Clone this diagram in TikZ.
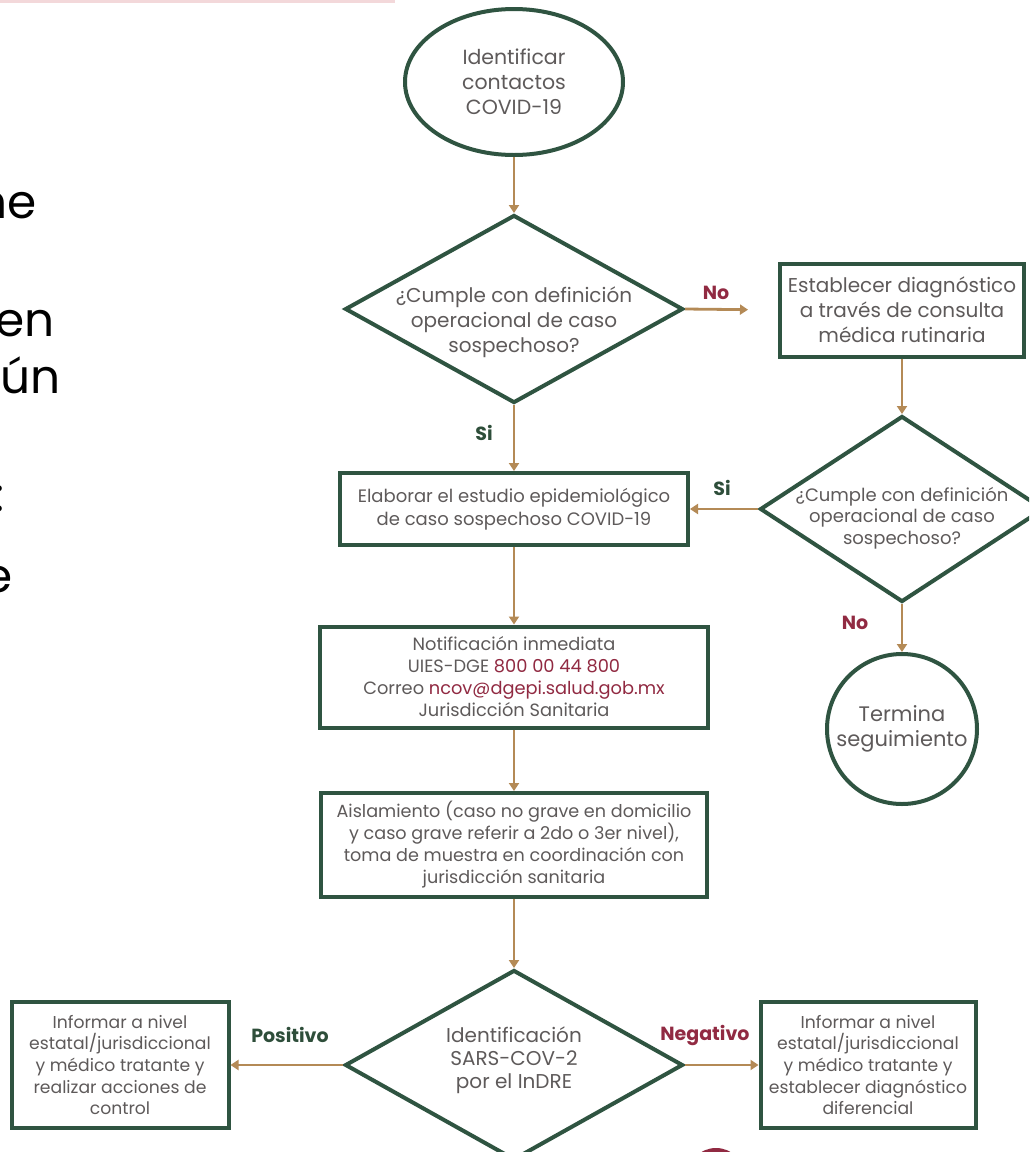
\documentclass[tikz,border=0pt]{standalone}
\usepackage{fontspec}
\setmainfont{Poppins}
\usetikzlibrary{shapes.geometric,arrows.meta}
\definecolor{dgreen}{HTML}{2F5441}
\definecolor{tanc}{HTML}{B48A56}
\definecolor{dred}{HTML}{912A42}
\definecolor{tgray}{HTML}{5E5A5A}
\definecolor{lblgreen}{HTML}{2E4E3A}
\definecolor{lpink}{HTML}{F3D8DA}
\newcommand{\fsz}[2]{\fontsize{#1}{#2}\selectfont}
\begin{document}
\begin{tikzpicture}[x=1pt,y=-1pt,
  shp/.style={draw=dgreen, line width=4pt, text=tgray, align=center, inner sep=0pt},
  box/.style={shp, rectangle},
  dia/.style={shp, diamond},
  txt/.style={text=tgray, align=center, inner sep=0pt},
  arr/.style={draw=tanc, line width=2.8pt, -{Triangle[length=8pt,width=10pt]}},
  lab/.style={font=\fsz{19}{22}\bfseries, inner sep=0pt},
  big/.style={font=\fsz{47}{50}, text=black, inner sep=0pt, anchor=base east}
]
\path[use as bounding box, clip] (0,0) rectangle (1029,1152);
\fill[white] (0,0) rectangle (1029,1152);
\draw[lpink, line width=2.5pt] (0,1.5) -- (395,1.5);

% cropped page text at left
\node[big] (t1) at (37,218) {ne};
\node[big] (t2) at (55,336) {en};
\node[big] (t3) at (61,393) {ún};
\node[big] (t4) at (5,511) {:};
\node[big] (t5) at (13,592) {e};

% nodes
\node[shp, ellipse, minimum width=218pt, minimum height=146pt, font=\fsz{20.5}{25}] (start) at (514,82) {Identificar\\contactos\\COVID-19};

\node[dia, minimum width=338pt, minimum height=188pt] (d1) at (514,309) {};
\node[txt, font=\fsz{20}{25}] (d1t) at (514,322) {¿Cumple con definición\\operacional de caso\\sospechoso?};

\node[box, minimum width=244pt, minimum height=93pt, font=\fsz{20}{25}] (b2) at (902,310) {Establecer diagnóstico\\a través de consulta\\médica rutinaria};

\node[dia, minimum width=284pt, minimum height=186pt] (d2) at (902,509) {};
\node[txt, font=\fsz{18}{21.5}] (d2t) at (902,518) {¿Cumple con definición\\operacional de caso\\sospechoso?};

\node[box, minimum width=348pt, minimum height=72pt, font=\fsz{18}{23}] (b3) at (514,509) {Elaborar el estudio epidemiológico\\de caso sospechoso COVID-19};

\node[box, minimum width=388pt, minimum height=101pt, font=\fsz{17.8}{22}] (b4) at (514,677) {Notificación inmediata\\UIES-DGE \textcolor{dred}{800 00 44 800}\\Correo \textcolor{dred}{ncov@dgepi.salud.gob.mx}\\Jurisdicción Sanitaria};

\node[box, minimum width=386pt, minimum height=104pt, font=\fsz{17.6}{22}] (b5) at (514,845) {Aislamiento (caso no grave en domicilio\\y caso grave referir a 2do o 3er nivel),\\toma de muestra en coordinación con\\jurisdicción sanitaria};

\node[dia, minimum width=338pt, minimum height=190pt] (d3) at (514,1065) {};
\node[txt, font=\fsz{20}{23}] (d3t) at (514,1060) {Identificación\\SARS-COV-2\\por el InDRE};

\node[box, minimum width=217pt, minimum height=126pt, font=\fsz{17.2}{21.7}] (bl) at (120,1065) {Informar a nivel\\estatal/jurisdiccional\\y médico tratante y\\realizar acciones de\\control};

\node[box, minimum width=215pt, minimum height=126pt, font=\fsz{17.2}{21.7}] (br) at (868,1065) {Informar a nivel\\estatal/jurisdiccional\\y médico tratante y\\establecer diagnóstico\\diferencial};

\node[shp, circle, minimum size=150pt, font=\fsz{21}{25}] (term) at (902,729) {Termina\\seguimiento};

\fill[dred] (716,1177) circle (29pt);

% connectors
\draw[arr] (start.south) -- (d1.north);
\draw[arr, shorten >=30pt] (d1.east) -- (b2.west);
\draw[arr] (d1.south) -- (b3.north);
\draw[arr] (b2.south) -- (d2.north);
\draw[arr] (d2.west) -- (b3.east);
\draw[arr] (d2.south) -- (term.north);
\draw[arr] (b3.south) -- (b4.north);
\draw[arr] (b4.south) -- (b5.north);
\draw[arr] (b5.south) -- (d3.north);
\draw[arr] (d3.west) -- (bl.east);
\draw[arr] (d3.east) -- (br.west);

% labels
\node[lab, text=dred] (lno1) at (716,293) {No};
\node[lab, text=lblgreen] (lsi1) at (484,433) {Si};
\node[lab, text=lblgreen] (lsi2) at (722,488) {Si};
\node[lab, text=dred] (lno2) at (855,623) {No};
\node[lab, text=lblgreen] (lpos) at (290,1035) {Positivo};
\node[lab, text=dred] (lneg) at (705,1035) {Negativo};
\end{tikzpicture}
\end{document}
